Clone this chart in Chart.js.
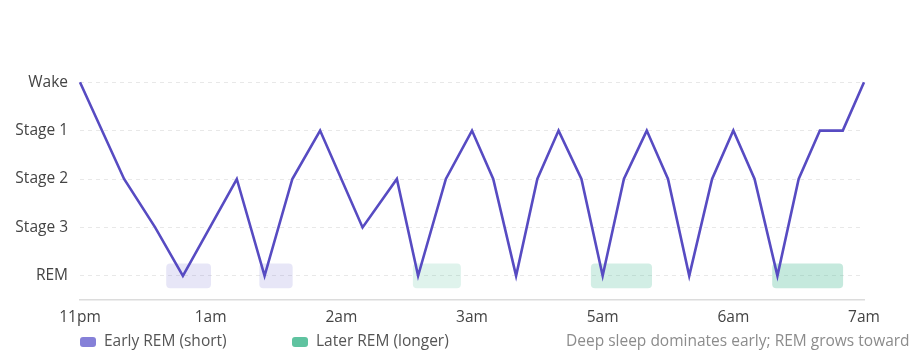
<!DOCTYPE html>
<html>
<head>
<meta charset="utf-8">
<script src="https://cdn.jsdelivr.net/npm/chart.js@4"></script>
<style>
html,body{margin:0;padding:0;background:#fff}
#wrap{width:910px;height:364px;position:relative}
</style>
</head>
<body>
<div id="wrap"><canvas id="c"></canvas></div>
<script>
// sleep stages, top to bottom
var stages = ['Wake', 'Stage 1', 'Stage 2', 'Stage 3', 'REM'];
// x ticks every 80 minutes from 11pm
var xTicks = ['11pm', '1am', '2am', '3am', '5am', '6am', '7am'];

// hypnogram: minutes after 11pm and stage
var sleepMin = [0, 27, 46, 63, 96, 113, 130, 147, 173, 194, 207, 224, 240, 253, 267, 280, 293, 307, 320, 333, 347, 360, 373, 387, 400, 413, 427, 440, 453, 467, 480];
var sleepStage = ['Wake', 'Stage 2', 'Stage 3', 'REM', 'Stage 2', 'REM', 'Stage 2', 'Stage 1', 'Stage 3', 'Stage 2', 'REM', 'Stage 2', 'Stage 1', 'Stage 2', 'REM', 'Stage 2', 'Stage 1', 'Stage 2', 'REM', 'Stage 2', 'Stage 1', 'Stage 2', 'REM', 'Stage 2', 'Stage 1', 'Stage 2', 'REM', 'Stage 2', 'Stage 1', 'Stage 1', 'Wake'];

// REM periods [start, end] in minutes
var earlyRem = [[53, 80], [110, 130]];
var laterRem = [[204, 233], [313, 350], [424, 467]];

var note = 'Deep sleep dominates early; REM grows toward';
var FONT = '"Open Sans", "Noto Sans", sans-serif';

var legendPlugin = {
  id: 'remLegend',
  afterDraw: function(chart) {
    var ctx = chart.ctx;
    var y = 342;
    var items = [
      { t: chart.data.datasets[1].label, c: '#8580d8', x: 80 },
      { t: chart.data.datasets[2].label, c: '#5fc3a0', x: 292 }
    ];
    ctx.save();
    ctx.font = '15.5px ' + FONT;
    ctx.textBaseline = 'middle';
    items.forEach(function(it) {
      ctx.fillStyle = it.c;
      ctx.beginPath();
      if (ctx.roundRect) ctx.roundRect(it.x, y - 5, 16, 10, 3);
      else ctx.rect(it.x, y - 5, 16, 10);
      ctx.fill();
      ctx.fillStyle = '#555';
      ctx.fillText(it.t, it.x + 24, y);
    });
    ctx.fillStyle = '#8c8c8c';
    ctx.fillText(note, 566, y);
    ctx.restore();
  }
};

new Chart(document.getElementById('c'), {
  type: 'line',
  data: {
    datasets: [
      {
        label: 'Sleep stage',
        order: 0,
        data: sleepMin.map(function(m, i) { return { x: m, y: sleepStage[i] }; }),
        borderColor: '#574bc2',
        borderWidth: 2.6,
        pointRadius: 0,
        tension: 0,
        fill: false,
        clip: false
      },
      {
        type: 'bar',
        label: 'Early REM (short)',
        order: 1,
        indexAxis: 'y',
        grouped: false,
        data: earlyRem.map(function(r) { return { x: r, y: 'REM' }; }),
        backgroundColor: ['rgba(133,128,216,0.2)', 'rgba(133,128,216,0.2)'],
        borderWidth: 0,
        borderRadius: 4,
        borderSkipped: false,
        barThickness: 24
      },
      {
        type: 'bar',
        label: 'Later REM (longer)',
        order: 1,
        indexAxis: 'y',
        grouped: false,
        data: laterRem.map(function(r) { return { x: r, y: 'REM' }; }),
        backgroundColor: ['rgba(95,195,160,0.2)', 'rgba(95,195,160,0.28)', 'rgba(95,195,160,0.36)'],
        borderWidth: 0,
        borderRadius: 4,
        borderSkipped: false,
        barThickness: 24
      }
    ]
  },
  options: {
    responsive: true,
    maintainAspectRatio: false,
    animation: false,
    layout: { padding: { top: 58, right: 46, left: 0, bottom: 0 } },
    plugins: {
      legend: { display: false },
      tooltip: { enabled: false }
    },
    scales: {
      x: {
        type: 'linear',
        min: 0,
        max: 480,
        offset: false,
        grid: { display: false, drawTicks: false },
        border: { display: true, color: '#dcdcdc', width: 1.5 },
        ticks: {
          stepSize: 80,
          autoSkip: false,
          maxRotation: 0,
          padding: 8,
          color: '#444',
          font: { family: FONT, size: 15.5 },
          callback: function(v, i) { return xTicks[i]; }
        },
        afterFit: function(s) { s.height = 64; }
      },
      y: {
        type: 'category',
        labels: stages,
        offset: true,
        grid: { color: '#e8e8e8', drawTicks: false, offset: false },
        border: { display: false, dash: [4, 4] },
        ticks: {
          padding: 12,
          color: '#444',
          font: { family: FONT, size: 15.5 }
        },
        afterFit: function(s) { s.width = 80; }
      }
    }
  },
  plugins: [legendPlugin]
});
</script>
</body>
</html>
